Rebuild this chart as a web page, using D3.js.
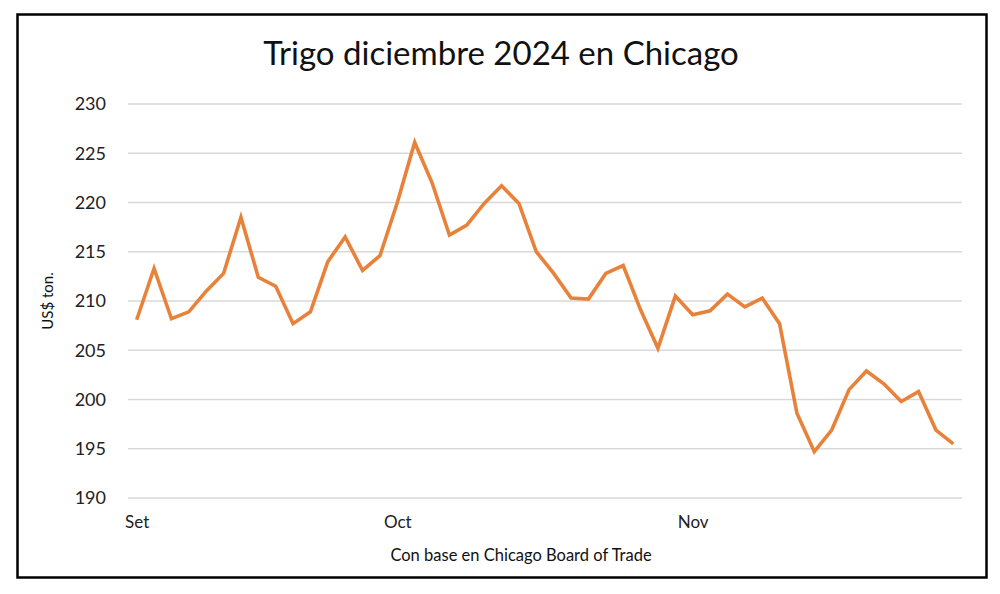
<!DOCTYPE html>
<html><head><meta charset="utf-8">
<script src="https://cdn.jsdelivr.net/npm/d3@7"></script>
<style>body{margin:0;background:#fff}svg{display:block}</style>
</head><body>
<svg id="c" width="1000" height="594"></svg>
<script>
const values = [208.1,213.3,208.2,208.9,211.0,212.8,218.5,212.4,211.5,207.7,208.9,214.0,216.5,213.1,214.6,220.0,226.1,222.0,216.7,217.7,219.9,221.7,219.9,215.0,212.8,210.3,210.2,212.8,213.6,209.1,205.2,210.5,208.6,209.0,210.7,209.4,210.3,207.7,198.6,194.7,196.9,201.0,202.9,201.6,199.8,200.8,196.9,195.5];
const monthLabels = ["Set","Oct","Nov"];
const monthIndex = [0,15,32];
const yTicks = [190,195,200,205,210,215,220,225,230];
const title = "Trigo diciembre 2024 en Chicago";
const yTitle = "US$ ton.";
const source = "Con base en Chicago Board of Trade";

const font = "Lato, 'Open Sans', sans-serif";
const svg = d3.select("#c");
svg.append("rect").attr("x",0).attr("y",0).attr("width",1000).attr("height",594).attr("fill","#fff");
svg.append("rect").attr("x",17.5).attr("y",14.5).attr("width",969).attr("height",563)
  .attr("fill","none").attr("stroke","#000").attr("stroke-width",2.5);

const idx = values.map((d,i)=>i);
const x = d3.scalePoint().domain(idx).range([128,962]).padding(0.5);
const y = d3.scaleLinear().domain([190,230]).range([498,104]);

const grid = svg.append("g");
grid.selectAll("line").data(yTicks).join("line")
  .attr("x1",128).attr("x2",962).attr("y1",d=>y(d)).attr("y2",d=>y(d))
  .attr("stroke","#d9d9d9").attr("stroke-width",1.3);

const yAxis = svg.append("g").attr("transform","translate(106,0)")
  .call(d3.axisLeft(y).tickValues(yTicks).tickSize(0).tickPadding(0));
yAxis.select(".domain").remove();
yAxis.selectAll("text").attr("font-family",font).attr("font-size",18).attr("fill","#222");

const xAxis = svg.append("g").attr("transform","translate(0,516)")
  .call(d3.axisBottom(x).tickValues(monthIndex).tickFormat((d,i)=>monthLabels[i]).tickSize(0).tickPadding(0));
xAxis.select(".domain").remove();
xAxis.selectAll("text").attr("font-family",font).attr("font-size",17).attr("fill","#222").attr("dy","0.71em");

svg.append("path").datum(values)
  .attr("d", d3.line().x((d,i)=>x(i)).y(d=>y(d)))
  .attr("fill","none").attr("stroke","#E8823A").attr("stroke-width",3.6)
  .attr("stroke-linejoin","miter");

svg.append("text").attr("x",501).attr("y",65).attr("text-anchor","middle")
  .attr("font-family",font).attr("font-size",33).attr("fill","#111").text(title);
svg.append("text").attr("transform","translate(53,301) rotate(-90)").attr("text-anchor","middle")
  .attr("font-family",font).attr("font-size",15).attr("fill","#111").text(yTitle);
svg.append("text").attr("x",521).attr("y",561).attr("text-anchor","middle")
  .attr("font-family",font).attr("font-size",16.5).attr("fill","#111").text(source);
</script>
</body></html>
